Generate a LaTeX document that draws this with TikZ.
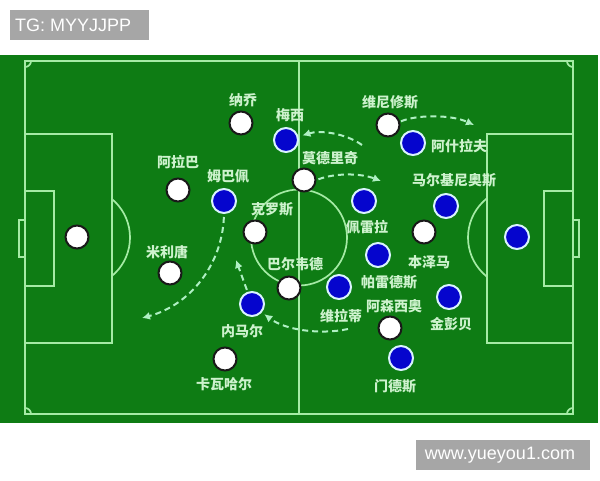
\documentclass[tikz,border=0pt]{standalone}
\usepackage{fontspec}
\setmainfont{Liberation Sans}
\newfontfamily\cjk{Noto Sans CJK SC}
\usepackage{tikz}
\usetikzlibrary{arrows.meta}
\definecolor{pitch}{RGB}{14,124,20}
\definecolor{chalk}{RGB}{165,235,165}
\definecolor{namec}{RGB}{205,242,205}
\definecolor{psgblue}{RGB}{5,5,205}
\definecolor{tagc}{RGB}{166,166,166}
\definecolor{runc}{RGB}{175,240,195}

\begin{document}
\begin{tikzpicture}[x=1pt, y=-1pt,
    whitep/.style={circle, fill=white, draw=black!90, line width=2pt, minimum size=23pt, inner sep=0pt},
    bluep/.style={circle, fill=psgblue, draw=white!85!cyan, line width=2pt, minimum size=24pt, inner sep=0pt},
    pname/.style={text=namec, font=\cjk\bfseries\fontsize{14}{16}\selectfont, inner sep=0pt},
    fline/.style={draw=chalk, line width=1.7pt},
    run/.style={draw=runc, line width=2pt, dash pattern=on 6pt off 4pt, -{Latex[length=8pt,width=8pt]}},
    tagtext/.style={text=white, font=\fontsize{18}{20}\selectfont, inner sep=0pt}]
\useasboundingbox (0,0) rectangle (600,480);
\fill[white] (0,0) rectangle (600,480);
\fill[tagc] (10,10) rectangle (149,40);
\node[tagtext, anchor=west] (tg) at (15,25) {TG: MYYJJPP};
\fill[tagc] (416,440) rectangle (590,470);
\node[tagtext] (site) at (500,455) {www.yueyou1.com};
\fill[pitch] (0,55) rectangle (598,423);
\draw[fline] (25,61) rectangle (573,414);
\draw[fline] (299,61) -- (299,414);
\draw[fline] (299,237.5) circle[radius=48];
\draw[fline] (25,134) rectangle (112,343);
\draw[fline] (25,191) rectangle (54,286);
\draw[fline] (19,220) rectangle (25,257);
\draw[fline] (487,134) rectangle (573,343);
\draw[fline] (544,191) rectangle (573,286);
\draw[fline] (573,220) rectangle (579,257);
\begin{scope}
    \clip (112,55) rectangle (200,423);
    \draw[fline] (80,237.5) circle[radius=50];
\end{scope}
\begin{scope}
    \clip (400,55) rectangle (487,423);
    \draw[fline] (518,237.5) circle[radius=50];
\end{scope}
\begin{scope}
    \clip (25,61) rectangle (573,414);
    \foreach \cx/\cy in {25/61, 573/61, 25/414, 573/414}
        \draw[fline] (\cx,\cy) circle[radius=6];
\end{scope}

\node[whitep] (gkl) at (77,237) {};
\node[whitep] (nacho) at (241,123) {};
\node[whitep] (alaba) at (178,190) {};
\node[whitep] (militao) at (170,273) {};
\node[whitep] (carvajal) at (225,359) {};
\node[whitep] (kroos) at (255,232) {};
\node[whitep] (valverde) at (289,288) {};
\node[whitep] (modric) at (304,180) {};
\node[whitep] (vini) at (388,125) {};
\node[whitep] (benzema) at (424,232) {};
\node[whitep] (asensio) at (390,328) {};

\node[bluep] (messi) at (286,140) {};
\node[bluep] (mbappe) at (224,201) {};
\node[bluep] (neymar) at (252,304) {};
\node[bluep] (hakimi) at (413,143) {};
\node[bluep] (marquinhos) at (446,206) {};
\node[bluep] (pereira) at (364,201) {};
\node[bluep] (paredes) at (378,255) {};
\node[bluep] (verratti) at (339,287) {};
\node[bluep] (kimpembe) at (449,297) {};
\node[bluep] (mendes) at (401,358) {};
\node[bluep] (gkr) at (517,237) {};

\node[pname] (nachoname) at (243,100) {纳乔};
\node[pname] (alabaname) at (178,162) {阿拉巴};
\node[pname] (militaoname) at (167,252) {米利唐};
\node[pname] (carvajalname) at (224,384) {卡瓦哈尔};
\node[pname] (kroosname) at (272,209) {克罗斯};
\node[pname] (valverdename) at (295,264) {巴尔韦德};
\node[pname] (modricname) at (330,158) {莫德里奇};
\node[pname] (vininame) at (390,102) {维尼修斯};
\node[pname] (benzemaname) at (429,262) {本泽马};
\node[pname] (asensioname) at (394,306) {阿森西奥};
\node[pname] (messiname) at (290,115) {梅西};
\node[pname] (mbappename) at (228,176) {姆巴佩};
\node[pname] (neymarname) at (242,331) {内马尔};
\node[pname] (hakiminame) at (459,146) {阿什拉夫};
\node[pname] (marquinhosname) at (454,180) {马尔基尼奥斯};
\node[pname] (pereiraname) at (367,227) {佩雷拉};
\node[pname] (paredesname) at (389,282) {帕雷德斯};
\node[pname] (verrattiname) at (341,316) {维拉蒂};
\node[pname] (kimpembename) at (451,324) {金彭贝};
\node[pname] (mendesname) at (395,386) {门德斯};

\coordinate (viniend) at (474,125);
\coordinate (messistart) at (362,145);
\coordinate (modricend) at (381,181);
\coordinate (mbappeend) at (142,318);
\coordinate (neymarend) at (236,260);
\coordinate (verrattistart) at (348,329);
\draw[run, shorten <=1pt] (vini.15) .. controls (415,115) and (450,114) .. (viniend);
\draw[run, shorten >=4pt] (messistart) .. controls (345,133) and (320,130) .. (messi.15);
\draw[run, shorten <=2pt] (modric.east) .. controls (335,173) and (360,173) .. (modricend);
\draw[run, shorten <=3pt] (mbappe.south) .. controls (222,265) and (190,305) .. (mbappeend);
\draw[run, shorten <=2pt] (neymar.110) -- (neymarend);
\draw[run, shorten >=3pt] (verrattistart) .. controls (320,335) and (285,330) .. (neymar.-40);
\end{tikzpicture}
\end{document}
